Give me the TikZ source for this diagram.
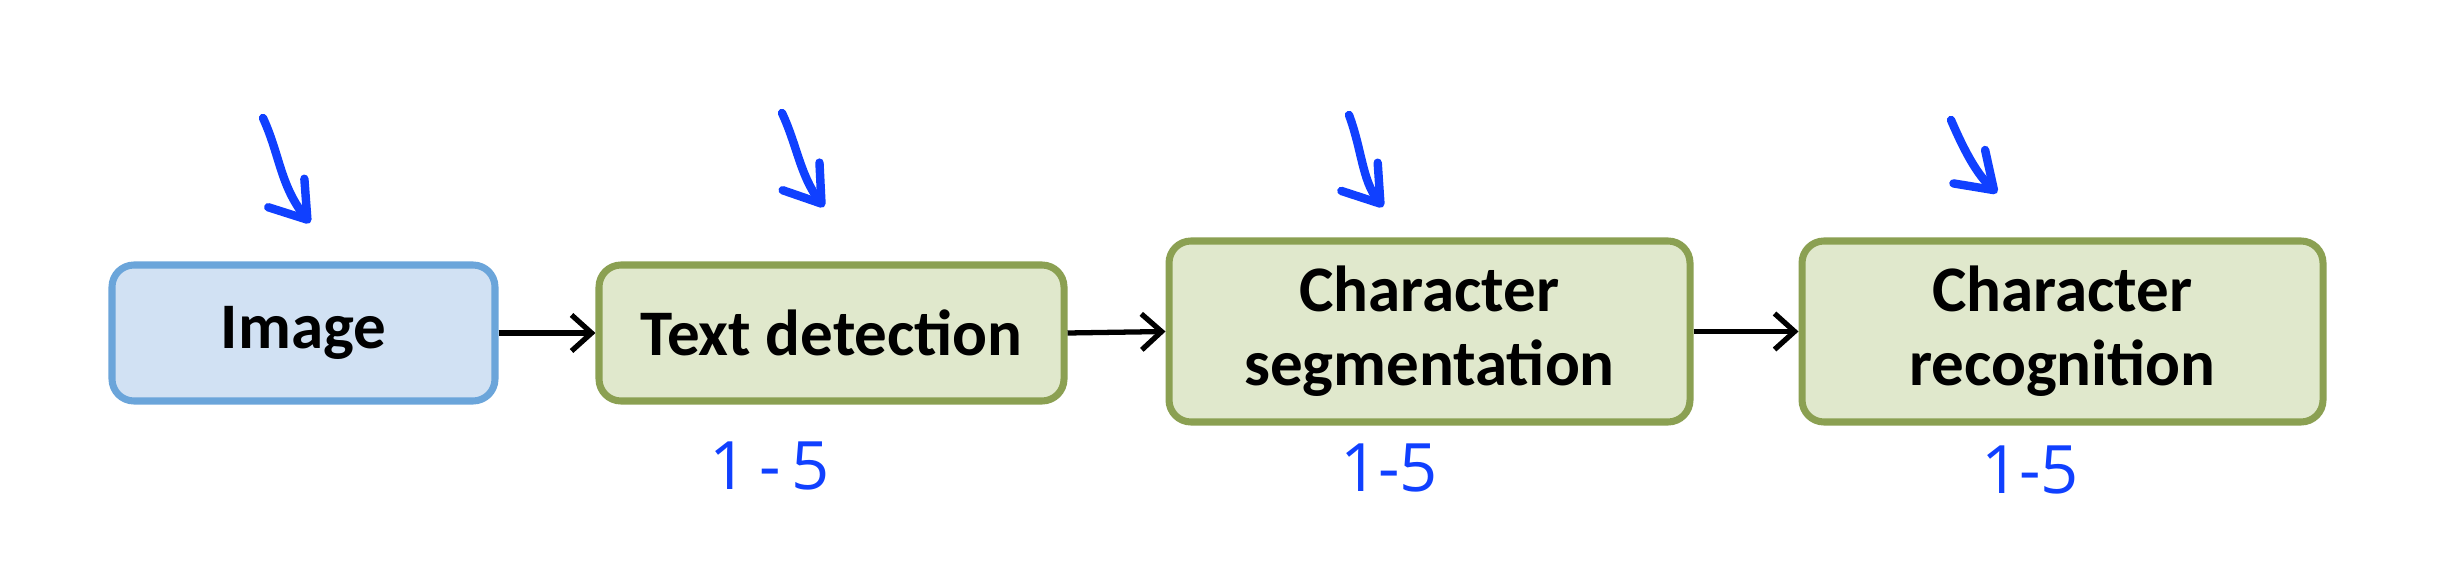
\documentclass[tikz,border=0pt]{standalone}
\usepackage{fontspec}
\setmainfont{Carlito}
\newfontfamily\penfont{Open Sans}
\usetikzlibrary{arrows.meta, positioning, calc}
\definecolor{inputblue}{HTML}{D1E1F3}
\definecolor{inputborder}{HTML}{6BA5DA}
\definecolor{stagegreen}{HTML}{E0E8CC}
\definecolor{stageborder}{HTML}{8BA052}
\definecolor{penblue}{HTML}{1040FF}

\tikzset{
  stagebox/.style={draw=stageborder, fill=stagegreen, line width=2pt, rounded corners=0.22cm,
    align=center, font=\fontsize{18.5}{21}\selectfont\bfseries, inner sep=0pt},
  flow/.style={-{Straight Barb[length=0.2cm, width=0.36cm, line width=1.5pt]}, line width=1.5pt, black},
  pen/.style={draw=penblue, line width=2.4pt, line cap=round, line join=round,
    -{Straight Barb[length=0.34cm, width=0.46cm, line width=2.4pt, round]}},
  penlabel/.style={text=penblue, font=\penfont\fontsize{19}{20}\selectfont}
}

\begin{document}
\begin{tikzpicture}
  \useasboundingbox (0,0) rectangle (24.4,5.6);
  % Pipeline stages
  \node[stagebox, draw=inputborder, fill=inputblue, minimum width=3.83cm, minimum height=1.36cm] (image) at (3.035,2.27) {Image};
  \node[stagebox, minimum width=4.65cm, minimum height=1.36cm] (textdet) at (8.315,2.27) {Text detection};
  \node[stagebox, minimum width=5.21cm, minimum height=1.81cm] (charseg) at (14.295,2.285) {Character\\segmentation};
  \node[stagebox, minimum width=5.21cm, minimum height=1.81cm] (charrec) at (20.625,2.285) {Character\\recognition};
  % Flow between stages
  \draw[flow] (image.east) -- (textdet.west);
  \draw[flow] (textdet.east) -- (charseg.west);
  \draw[flow] (charseg.east) -- (charrec.west);
  % Hand-drawn pointers above the stages
  \coordinate (imagetop) at (2.63,4.42);
  \coordinate (imagetip) at (3.10,3.37);
  \coordinate (textdettop) at (7.82,4.47);
  \coordinate (textdettip) at (8.24,3.53);
  \coordinate (charsegtop) at (13.49,4.45);
  \coordinate (charsegtip) at (13.83,3.53);
  \coordinate (charrectop) at (19.51,4.40);
  \coordinate (charrectip) at (19.97,3.67);
  \draw[pen] (imagetop) .. controls (2.80,4.05) and (2.80,3.75) .. (imagetip);
  \draw[pen] (textdettop) .. controls (7.97,4.15) and (8.00,3.85) .. (textdettip);
  \draw[pen] (charsegtop) .. controls (13.62,4.10) and (13.62,3.80) .. (charsegtip);
  \draw[pen] (charrectop) .. controls (19.66,4.05) and (19.78,3.85) .. (charrectip);
  % Handwritten notes below
  \node[penlabel] (textdetnote) at (7.70,0.94) {1\,-\,5};
  \node[penlabel] (charsegnote) at (13.89,0.92) {1-5};
  \node[penlabel] (charrecnote) at (20.30,0.90) {1-5};
\end{tikzpicture}
\end{document}
